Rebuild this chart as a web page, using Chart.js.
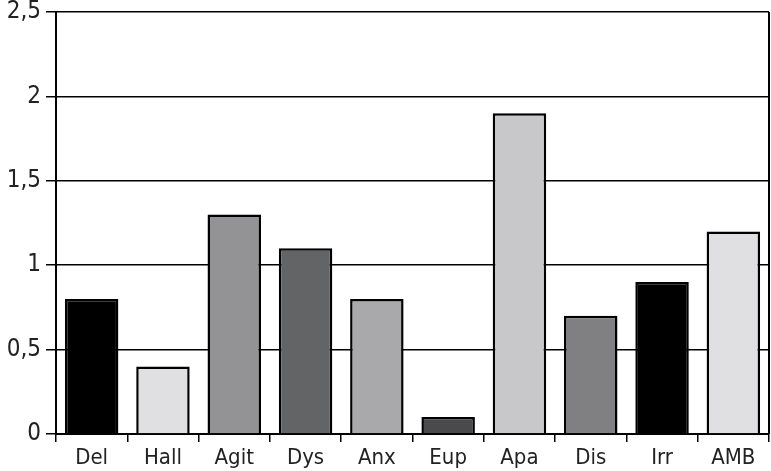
<!DOCTYPE html>
<html>
<head>
<meta charset="utf-8">
<script src="https://cdn.jsdelivr.net/npm/chart.js@4/dist/chart.umd.min.js"></script>
<style>
  html, body { margin: 0; padding: 0; background: #fff; }
  #wrap { width: 771px; height: 471px; }
</style>
</head>
<body>
<div id="wrap"><canvas id="chart"></canvas></div>
<script>
// Chart data
const categories = ['Del', 'Hall', 'Agit', 'Dys', 'Anx', 'Eup', 'Apa', 'Dis', 'Irr', 'AMB'];
const values = [0.8, 0.4, 1.3, 1.1, 0.8, 0.1, 1.9, 0.7, 0.9, 1.2];
const barColors = ['#000000', '#e0e0e2', '#939396', '#636466', '#a9a9ac', '#4a4a4c', '#c8c8ca', '#808083', '#000000', '#e0e0e2'];
const yTicks = [0, 0.5, 1, 1.5, 2, 2.5];

const fontFamily = '"DejaVu Sans Condensed", "Liberation Sans Narrow", sans-serif';

// right border of the plot frame
const frameRight = {
    id: 'frameRight',
    afterDraw(chart) {
        const { ctx, chartArea } = chart;
        ctx.save();
        ctx.strokeStyle = '#000';
        ctx.lineWidth = 2;
        ctx.beginPath();
        ctx.moveTo(chartArea.right, chartArea.top);
        ctx.lineTo(chartArea.right, chartArea.bottom);
        ctx.stroke();
        ctx.restore();
    }
};

new Chart(document.getElementById('chart'), {
    type: 'bar',
    data: {
        labels: categories,
        datasets: [{
            data: values,
            backgroundColor: barColors,
            borderColor: '#000',
            borderWidth: 2.5,
            barPercentage: 0.75,
            categoryPercentage: 1
        }]
    },
    options: {
        responsive: true,
        maintainAspectRatio: false,
        animation: false,
        layout: { padding: { top: 12, right: 2, left: 0, bottom: 0 } },
        plugins: { legend: { display: false }, tooltip: { enabled: false } },
        scales: {
            y: {
                min: 0,
                max: 2.5,
                afterBuildTicks: axis => { axis.ticks = yTicks.map(v => ({ value: v })); },
                afterFit: axis => { axis.width = 56; axis.paddingTop = 0; axis.paddingBottom = 0; },
                border: { color: '#000', width: 2 },
                grid: { color: '#000', lineWidth: 1.5, tickLength: 10 },
                ticks: {
                    color: '#222',
                    padding: 5,
                    font: { family: fontFamily, size: 24 },
                    callback: v => String(v).replace('.', ',')
                }
            },
            x: {
                afterFit: axis => { axis.height = 37; },
                border: { color: '#000', width: 2 },
                grid: { display: true, drawOnChartArea: false, color: '#000', lineWidth: 1.5, tickLength: 8 },
                ticks: {
                    color: '#222',
                    padding: 3,
                    font: { family: fontFamily, size: 22 }
                }
            }
        }
    },
    plugins: [frameRight]
});
</script>
</body>
</html>
